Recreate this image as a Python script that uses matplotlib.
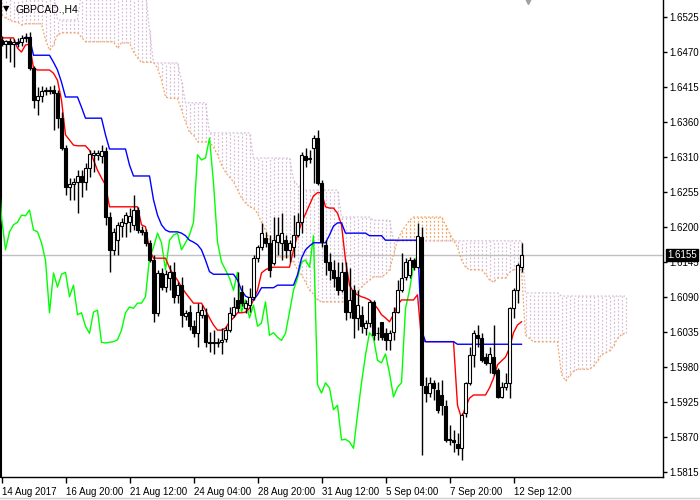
import numpy as np
import matplotlib.pyplot as plt
from matplotlib.lines import Line2D

# GBPCAD H4 candles, 14 Aug - 12 Sep 2017
opens = [
    1.6490, 1.6483, 1.6488, 1.6483, 1.6487, 1.6486, 1.6493, 1.6494, 1.6446, 1.6396,
    1.6403, 1.6410, 1.6412, 1.6412, 1.6407, 1.6368, 1.6322, 1.6261, 1.6266, 1.6269,
    1.6278, 1.6269, 1.6290, 1.6311, 1.6311, 1.6309, 1.6317, 1.6214, 1.6163, 1.6178,
    1.6200, 1.6205, 1.6206, 1.6202, 1.6225, 1.6194, 1.6191, 1.6174, 1.6147, 1.6065,
    1.6127, 1.6105, 1.6119, 1.6128, 1.6093, 1.6108, 1.6060, 1.6066, 1.6044, 1.6033,
    1.6062, 1.6062, 1.6019, 1.6018, 1.6018, 1.6020, 1.6024, 1.6038, 1.6062, 1.6085,
    1.6097, 1.6072, 1.6077, 1.6090, 1.6150, 1.6167, 1.6181, 1.6174, 1.6143, 1.6175,
    1.6174, 1.6178, 1.6163, 1.6167, 1.6186, 1.6206, 1.6309, 1.6304, 1.6322, 1.6337,
    1.6267, 1.6171, 1.6144, 1.6132, 1.6121, 1.6100, 1.6128, 1.6066, 1.6100, 1.6057,
    1.6062, 1.6041, 1.6049, 1.6082, 1.6033, 1.6051, 1.6033, 1.6022, 1.6035, 1.6066,
    1.6100, 1.6121, 1.6124, 1.6147, 1.6136, 1.6183, 1.5951, 1.5940, 1.5956, 1.5945,
    1.5937, 1.5920, 1.5867, 1.5867, 1.5861, 1.5854, 1.5909, 1.5956, 1.5999, 1.6030,
    1.6026, 1.5996, 1.5987, 1.5996, 1.5976, 1.5934, 1.5949, 1.5956, 1.6072, 1.6100,
    1.6136]
highs = [
    1.6496, 1.6490, 1.6493, 1.6491, 1.6493, 1.6498, 1.6501, 1.6502, 1.6449, 1.6417,
    1.6418, 1.6417, 1.6418, 1.6420, 1.6412, 1.6378, 1.6326, 1.6275, 1.6275, 1.6287,
    1.6287, 1.6298, 1.6318, 1.6318, 1.6318, 1.6326, 1.6323, 1.6222, 1.6197, 1.6206,
    1.6212, 1.6222, 1.6228, 1.6248, 1.6230, 1.6200, 1.6195, 1.6178, 1.6155, 1.6132,
    1.6135, 1.6132, 1.6139, 1.6144, 1.6113, 1.6121, 1.6069, 1.6077, 1.6054, 1.6080,
    1.6077, 1.6072, 1.6035, 1.6038, 1.6026, 1.6041, 1.6044, 1.6074, 1.6090, 1.6128,
    1.6108, 1.6085, 1.6104, 1.6155, 1.6171, 1.6205, 1.6191, 1.6186, 1.6214, 1.6214,
    1.6220, 1.6186, 1.6178, 1.6217, 1.6220, 1.6315, 1.6322, 1.6318, 1.6342, 1.6350,
    1.6272, 1.6178, 1.6158, 1.6147, 1.6144, 1.6144, 1.6144, 1.6135, 1.6108, 1.6100,
    1.6076, 1.6054, 1.6085, 1.6085, 1.6043, 1.6051, 1.6041, 1.6038, 1.6074, 1.6116,
    1.6158, 1.6150, 1.6152, 1.6150, 1.6205, 1.6199, 1.5965, 1.5965, 1.5960, 1.5957,
    1.5960, 1.5929, 1.5890, 1.5882, 1.5878, 1.5909, 1.5957, 1.6012, 1.6038, 1.6046,
    1.6034, 1.6002, 1.6012, 1.6046, 1.5979, 1.5957, 1.5971, 1.6074, 1.6104, 1.6142,
    1.6174]
lows = [
    1.6480, 1.6462, 1.6455, 1.6448, 1.6479, 1.6480, 1.6487, 1.6443, 1.6384, 1.6373,
    1.6393, 1.6404, 1.6406, 1.6350, 1.6353, 1.6318, 1.6248, 1.6241, 1.6241, 1.6220,
    1.6245, 1.6256, 1.6276, 1.6284, 1.6303, 1.6298, 1.6202, 1.6128, 1.6155, 1.6155,
    1.6183, 1.6183, 1.6191, 1.6194, 1.6189, 1.6186, 1.6169, 1.6144, 1.6051, 1.6060,
    1.6100, 1.6097, 1.6100, 1.6080, 1.6080, 1.6043, 1.6054, 1.6038, 1.6027, 1.6012,
    1.6057, 1.6012, 1.6004, 1.6001, 1.6012, 1.6001, 1.6019, 1.6035, 1.6058, 1.6066,
    1.6076, 1.6065, 1.6066, 1.6085, 1.6144, 1.6163, 1.6167, 1.6121, 1.6139, 1.6155,
    1.6147, 1.6150, 1.6144, 1.6152, 1.6183, 1.6189, 1.6292, 1.6298, 1.6267, 1.6264,
    1.6167, 1.6124, 1.6116, 1.6105, 1.6093, 1.6097, 1.6054, 1.6057, 1.6026, 1.6038,
    1.6034, 1.6030, 1.6043, 1.6023, 1.6022, 1.6022, 1.6007, 1.6007, 1.6022, 1.6065,
    1.6097, 1.6116, 1.6119, 1.6132, 1.6135, 1.5844, 1.5926, 1.5934, 1.5929, 1.5909,
    1.5906, 1.5864, 1.5859, 1.5848, 1.5844, 1.5836, 1.5903, 1.5953, 1.5981, 1.6012,
    1.5988, 1.5984, 1.5971, 1.5968, 1.5932, 1.5932, 1.5945, 1.5932, 1.6057, 1.6080,
    1.6128]
closes = [
    1.6483, 1.6488, 1.6483, 1.6487, 1.6485, 1.6493, 1.6494, 1.6446, 1.6396, 1.6403,
    1.6410, 1.6412, 1.6411, 1.6407, 1.6368, 1.6322, 1.6261, 1.6266, 1.6269, 1.6278,
    1.6269, 1.6290, 1.6312, 1.6314, 1.6314, 1.6317, 1.6214, 1.6163, 1.6191, 1.6202,
    1.6206, 1.6217, 1.6216, 1.6225, 1.6194, 1.6191, 1.6174, 1.6147, 1.6065, 1.6127,
    1.6105, 1.6125, 1.6128, 1.6090, 1.6108, 1.6062, 1.6065, 1.6044, 1.6033, 1.6066,
    1.6069, 1.6019, 1.6018, 1.6019, 1.6020, 1.6023, 1.6038, 1.6065, 1.6074, 1.6072,
    1.6080, 1.6080, 1.6090, 1.6150, 1.6167, 1.6189, 1.6174, 1.6132, 1.6178, 1.6186,
    1.6189, 1.6163, 1.6174, 1.6186, 1.6206, 1.6311, 1.6303, 1.6306, 1.6337, 1.6267,
    1.6175, 1.6144, 1.6132, 1.6119, 1.6100, 1.6128, 1.6066, 1.6085, 1.6057, 1.6077,
    1.6044, 1.6049, 1.6082, 1.6030, 1.6034, 1.6027, 1.6022, 1.6033, 1.6066, 1.6100,
    1.6119, 1.6144, 1.6147, 1.6136, 1.6185, 1.5953, 1.5940, 1.5956, 1.5948, 1.5914,
    1.5921, 1.5867, 1.5868, 1.5864, 1.5854, 1.5906, 1.5956, 1.5999, 1.6034, 1.6026,
    1.5991, 1.5987, 1.6001, 1.5971, 1.5934, 1.5949, 1.5956, 1.6072, 1.6100, 1.6139,
    1.6155]

# Ichimoku lines as shown on the chart
tenkan = [
    1.6493, 1.6493, 1.6493, 1.6493, 1.6477, 1.6471, 1.6482, 1.6483, 1.6446, 1.6443,
    1.6443, 1.6443, 1.6443, 1.6438, 1.6427, 1.6396, 1.6342, 1.6334, 1.6326, 1.6325,
    1.6325, 1.6325, 1.6318, 1.6303, 1.6287, 1.6275, 1.6264, 1.6230, 1.6230, 1.6230,
    1.6230, 1.6230, 1.6230, 1.6230, 1.6230, 1.6202, 1.6199, 1.6163, 1.6150, 1.6150,
    1.6150, 1.6150, 1.6135, 1.6124, 1.6116, 1.6105, 1.6096, 1.6088, 1.6080, 1.6080,
    1.6080, 1.6069, 1.6057, 1.6046, 1.6038, 1.6038, 1.6041, 1.6051, 1.6057, 1.6065,
    1.6065, 1.6066, 1.6072, 1.6085, 1.6100, 1.6127, 1.6132, 1.6135, 1.6136, 1.6136,
    1.6136, 1.6136, 1.6136, 1.6163, 1.6186, 1.6205, 1.6219, 1.6233, 1.6247, 1.6252,
    1.6252, 1.6230, 1.6228, 1.6228, 1.6220, 1.6202, 1.6147, 1.6108, 1.6097, 1.6093,
    1.6090, 1.6088, 1.6085, 1.6079, 1.6072, 1.6062, 1.6057, 1.6051, 1.6062, 1.6077,
    1.6085, 1.6085, 1.6085, 1.6085, 1.6093, 1.6023, 1.6020, 1.6020, 1.6020, 1.6020,
    1.6020, 1.6020, 1.6020, 1.6020, 1.5921, 1.5901, 1.5918, 1.5932, 1.5937, 1.5937,
    1.5937, 1.5937, 1.5948, 1.5963, 1.5984, 1.5990, 1.5996, 1.6010, 1.6034, 1.6046,
    1.6051]
kijun = [
    1.6483, 1.6483, 1.6483, 1.6483, 1.6483, 1.6490, 1.6494, 1.6493, 1.6466, 1.6466,
    1.6466, 1.6466, 1.6466, 1.6455, 1.6443, 1.6424, 1.6401, 1.6401, 1.6401, 1.6401,
    1.6385, 1.6368, 1.6368, 1.6368, 1.6368, 1.6368, 1.6342, 1.6320, 1.6320, 1.6320,
    1.6320, 1.6320, 1.6295, 1.6278, 1.6278, 1.6278, 1.6278, 1.6278, 1.6241, 1.6217,
    1.6202, 1.6194, 1.6191, 1.6191, 1.6191, 1.6189, 1.6185, 1.6178, 1.6175, 1.6171,
    1.6163, 1.6147, 1.6129, 1.6125, 1.6125, 1.6125, 1.6125, 1.6125, 1.6125, 1.6116,
    1.6100, 1.6091, 1.6088, 1.6085, 1.6093, 1.6104, 1.6104, 1.6104, 1.6104, 1.6108,
    1.6108, 1.6108, 1.6108, 1.6108, 1.6124, 1.6150, 1.6163, 1.6169, 1.6174, 1.6174,
    1.6174, 1.6174, 1.6186, 1.6200, 1.6205, 1.6205, 1.6189, 1.6189, 1.6189, 1.6189,
    1.6189, 1.6189, 1.6185, 1.6185, 1.6185, 1.6185, 1.6178, 1.6178, 1.6178, 1.6178,
    1.6178, 1.6178, 1.6178, 1.6178, 1.6178, 1.6038, 1.6020, 1.6020, 1.6020, 1.6020,
    1.6020, 1.6020, 1.6020, 1.6020, 1.6016, 1.6016, 1.6016, 1.6016, 1.6016, 1.6016,
    1.6016, 1.6016, 1.6016, 1.6016, 1.6016, 1.6016, 1.6016, 1.6016, 1.6016, 1.6016,
    1.6016]
# Senkou spans, 26 bars ahead of the last candle
span_a = [
    1.6529, 1.6524, 1.6521, 1.6518, 1.6518, 1.6513, 1.6515, 1.6515, 1.6515, 1.6515,
    1.6515, 1.6490, 1.6474, 1.6482, 1.6498, 1.6501, 1.6501, 1.6501, 1.6501, 1.6501,
    1.6494, 1.6487, 1.6487, 1.6487, 1.6487, 1.6487, 1.6487, 1.6487, 1.6487, 1.6477,
    1.6485, 1.6485, 1.6485, 1.6471, 1.6462, 1.6455, 1.6455, 1.6455, 1.6455, 1.6446,
    1.6427, 1.6401, 1.6399, 1.6399, 1.6399, 1.6381, 1.6362, 1.6346, 1.6342, 1.6331,
    1.6331, 1.6331, 1.6331, 1.6323, 1.6311, 1.6295, 1.6284, 1.6276, 1.6269, 1.6256,
    1.6244, 1.6236, 1.6230, 1.6228, 1.6220, 1.6206, 1.6194, 1.6178, 1.6163, 1.6152,
    1.6152, 1.6152, 1.6152, 1.6144, 1.6132, 1.6124, 1.6113, 1.6100, 1.6094, 1.6085,
    1.6082, 1.6082, 1.6082, 1.6082, 1.6082, 1.6082, 1.6082, 1.6082, 1.6090, 1.6097,
    1.6105, 1.6111, 1.6116, 1.6121, 1.6121, 1.6121, 1.6125, 1.6132, 1.6155, 1.6178,
    1.6191, 1.6200, 1.6209, 1.6214, 1.6214, 1.6214, 1.6214, 1.6214, 1.6214, 1.6214,
    1.6214, 1.6202, 1.6189, 1.6178, 1.6167, 1.6147, 1.6136, 1.6132, 1.6132, 1.6132,
    1.6132, 1.6125, 1.6116, 1.6113, 1.6119, 1.6119, 1.6119, 1.6128, 1.6132, 1.6132,
    1.6132, 1.6030, 1.6025, 1.6020, 1.6020, 1.6020, 1.6020, 1.6020, 1.6020, 1.6020,
    1.5969, 1.5959, 1.5967, 1.5974, 1.5977, 1.5977, 1.5977, 1.5977, 1.5982, 1.5990,
    1.6000, 1.6003, 1.6006, 1.6013, 1.6025, 1.6031, 1.6034]
span_b = [
    1.6565, 1.6565, 1.6565, 1.6565, 1.6565, 1.6565, 1.6565, 1.6565, 1.6565, 1.6565,
    1.6565, 1.6565, 1.6565, 1.6565, 1.6521, 1.6521, 1.6521, 1.6521, 1.6521, 1.6521,
    1.6565, 1.6565, 1.6565, 1.6565, 1.6565, 1.6565, 1.6565, 1.6565, 1.6565, 1.6565,
    1.6565, 1.6565, 1.6565, 1.6565, 1.6565, 1.6565, 1.6565, 1.6505, 1.6454, 1.6454,
    1.6454, 1.6454, 1.6454, 1.6454, 1.6454, 1.6427, 1.6392, 1.6392, 1.6392, 1.6392,
    1.6392, 1.6392, 1.6345, 1.6345, 1.6345, 1.6345, 1.6345, 1.6345, 1.6345, 1.6345,
    1.6345, 1.6345, 1.6345, 1.6306, 1.6306, 1.6306, 1.6306, 1.6306, 1.6306, 1.6306,
    1.6306, 1.6306, 1.6306, 1.6272, 1.6264, 1.6261, 1.6256, 1.6256, 1.6256, 1.6256,
    1.6256, 1.6256, 1.6256, 1.6256, 1.6256, 1.6214, 1.6214, 1.6214, 1.6214, 1.6214,
    1.6214, 1.6214, 1.6214, 1.6209, 1.6209, 1.6209, 1.6209, 1.6209, 1.6177, 1.6177,
    1.6177, 1.6177, 1.6177, 1.6177, 1.6177, 1.6177, 1.6177, 1.6177, 1.6177, 1.6177,
    1.6177, 1.6177, 1.6177, 1.6177, 1.6177, 1.6177, 1.6177, 1.6177, 1.6177, 1.6177,
    1.6177, 1.6177, 1.6177, 1.6177, 1.6177, 1.6177, 1.6177, 1.6177, 1.6177, 1.6177,
    1.6177, 1.6096, 1.6096, 1.6096, 1.6096, 1.6096, 1.6096, 1.6096, 1.6096, 1.6096,
    1.6091, 1.6091, 1.6091, 1.6091, 1.6091, 1.6091, 1.6091, 1.6091, 1.6091, 1.6091,
    1.6091, 1.6091, 1.6091, 1.6091, 1.6091, 1.6091, 1.6091]

time_ticks = [0, 16, 32, 48, 64, 80, 96, 112, 128]
time_labels = ["14 Aug 2017", "16 Aug 20:00", "21 Aug 12:00", "24 Aug 04:00",
               "28 Aug 20:00", "31 Aug 12:00", "5 Sep 04:00", "7 Sep 20:00",
               "12 Sep 12:00"]
price_labels = ["1.6525", "1.6470", "1.6415", "1.6360", "1.6310", "1.6255", "1.6200",
                "1.6145", "1.6090", "1.6035", "1.5980", "1.5925", "1.5870", "1.5815"]
last_price = 1.6155
shift = 26

o, h, l, c = map(np.array, (opens, highs, lows, closes))
sa, sb = np.array(span_a), np.array(span_b)
x = np.arange(len(c))
xc = np.arange(len(sa))

plt.rcParams['font.family'] = 'Liberation Sans'
fig = plt.figure(figsize=(7, 5), dpi=100)
ax = fig.add_axes([1/700, 23/500, 662/700, 477/500])

# kumo: dotted histogram between the spans
bull = sa >= sb
ax.vlines(xc[bull], sb[bull], sa[bull], colors='#F4A460', linestyles=(0, (1.5, 1.5)), lw=0.9, zorder=1)
ax.vlines(xc[~bull], sa[~bull], sb[~bull], colors='#D8BFD8', linestyles=(0, (1.5, 1.5)), lw=0.9, zorder=1)
ax.plot(xc, sa, color='#F4A460', lw=0.9, ls=(0, (1.5, 1.5)), zorder=2)
ax.plot(xc, sb, color='#D8BFD8', lw=0.9, ls=(0, (1.5, 1.5)), zorder=2)

ax.axhline(last_price, color='#C0C0C0', lw=1, zorder=1.5)

ax.plot(x - shift, c, color='#00FF00', lw=1, zorder=3)
ax.plot(x, tenkan, color='#FF0000', lw=1, zorder=3)
ax.plot(x, kijun, color='#0000FF', lw=1, zorder=3)

# candles
ax.vlines(x, l, h, color='black', lw=1, zorder=4)
fill = np.where(c >= o, 'white', 'black')
ax.bar(x, np.abs(c - o), bottom=np.minimum(o, c), width=0.6, color=fill,
       edgecolor='black', linewidth=0.8, zorder=5)

ax.set_xlim(-0.125, 165.375)
ax.set_ylim(1.58093, 1.6552)

ax.set_xticks(time_ticks)
ax.set_xticklabels(time_labels, ha='left', fontsize=7)
ax.tick_params(axis='x', length=4, width=1, pad=3, direction='out')
ax.yaxis.tick_right()
ax.set_yticks(1.6525 - 0.00545 * np.arange(len(price_labels)))
ax.set_yticklabels(price_labels, fontsize=7)
ax.tick_params(axis='y', length=3, width=1, pad=1.5, direction='out')
for s in ('left', 'right', 'bottom'):
    ax.spines[s].set_linewidth(1)
ax.spines['left'].set_linewidth(1.5)
ax.spines['top'].set_visible(False)

ax.annotate(f"{last_price:.4f}", xy=(1, last_price), xycoords=('axes fraction', 'data'),
            xytext=(3, 0), textcoords='offset points', ha='left', va='center',
            fontsize=7, color='white', zorder=10,
            bbox=dict(boxstyle='square,pad=0.15', fc='black', ec='black'))

ax.plot([131.5], [1.6552], marker='v', color='#A0A0A0', ms=6, clip_on=False, zorder=6)

fig.text(3/700, 1 - 9/500, '\u25BC', fontsize=6, va='center', ha='left',
         family=['DejaVu Sans'])
fig.text(15/700, 1 - 9/500, 'GBPCAD.,H4', fontsize=7.5, va='center', ha='left')
fig.add_artist(Line2D([0, 1], [2/500, 2/500], color='#D0D0D0', lw=1))

fig.savefig('out.png', dpi=100)
